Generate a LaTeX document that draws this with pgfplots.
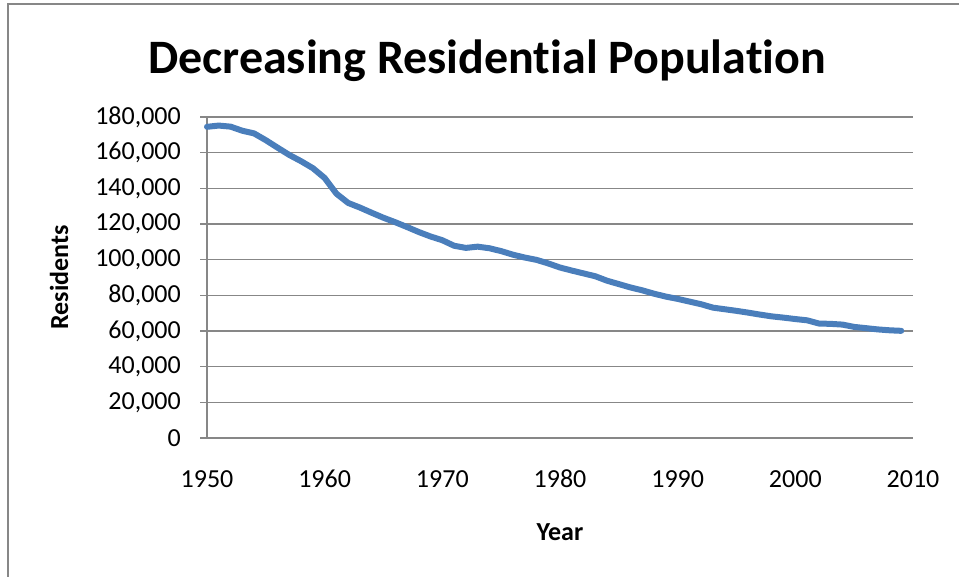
\documentclass[border=0pt]{standalone}
\usepackage{pgfplots}
\pgfplotsset{compat=1.18}
\usepackage{pgfplotstable}
\usepackage{fontspec}
\setmainfont{Carlito}[Ligatures=NoCommon]
\definecolor{serieblue}{HTML}{4A7EBB}
\definecolor{gridc}{HTML}{878787}
\pgfplotstableread{
year pop
1950 174500
1951 175200
1952 174600
1953 172300
1954 170800
1955 167000
1956 162800
1957 158700
1958 155200
1959 151300
1960 145800
1961 137000
1962 131800
1963 129200
1964 126300
1965 123500
1966 121000
1967 118300
1968 115500
1969 113000
1970 110900
1971 107800
1972 106600
1973 107300
1974 106400
1975 104800
1976 102800
1977 101200
1978 99900
1979 97900
1980 95600
1981 93900
1982 92300
1983 90700
1984 88200
1985 86300
1986 84400
1987 82800
1988 80900
1989 79300
1990 78000
1991 76500
1992 75000
1993 73100
1994 72200
1995 71300
1996 70300
1997 69200
1998 68200
1999 67500
2000 66700
2001 66000
2002 64200
2003 64000
2004 63600
2005 62300
2006 61600
2007 60900
2008 60400
2009 60100
}\popdata
\begin{document}
\begin{tikzpicture}[x=1bp,y=1bp]
\useasboundingbox (0,0) rectangle (959,-577);
\draw[gridc, line width=2bp] (8,-577) -- (8,-4) -- (959,-4);
\node[font=\fontsize{48bp}{52bp}\selectfont\bfseries, anchor=base, inner sep=0pt] at (487,-74) {Decreasing Residential Population};
\begin{axis}[
  at={(207bp,-438bp)}, anchor=south west,
  width=706bp, height=321bp, scale only axis,
  xmin=1950, xmax=2010, ymin=0, ymax=180000,
  xtick={1950,1960,1970,1980,1990,2000,2010},
  xticklabels={1950,1960,1970,1980,1990,2000,2010},
  ytick={0,20000,40000,60000,80000,100000,120000,140000,160000,180000},
  yticklabels={0,{20,000},{40,000},{60,000},{80,000},{100,000},{120,000},{140,000},{160,000},{180,000}},
  scaled y ticks=false,
  axis x line*=bottom, axis y line*=left,
  axis line style={gridc, line width=1.5bp, -},
  ymajorgrids, grid style={gridc, line width=1.5bp},
  tick align=outside, major tick length=7bp,
  ytick style={gridc, line width=1.5bp},
  xtick style={draw=none},
  ticklabel style={font=\fontsize{26bp}{29bp}\selectfont, inner sep=0pt},
  yticklabel style={anchor=east, xshift=-19bp},
  xticklabel style={anchor=base, yshift=-42bp},
  xlabel={Year}, ylabel={Residents},
  xlabel style={at={(rel axis cs:0.5,0)}, anchor=center, yshift=-94bp, font=\fontsize{26bp}{29bp}\selectfont\bfseries},
  ylabel style={at={(rel axis cs:0,0.5)}, anchor=center, yshift=148bp, font=\fontsize{26bp}{29bp}\selectfont\bfseries},
  clip=false,
]
\addplot[serieblue, line width=6bp, line join=round, line cap=round] table[x=year, y=pop] {\popdata};
\end{axis}
\end{tikzpicture}
\end{document}
